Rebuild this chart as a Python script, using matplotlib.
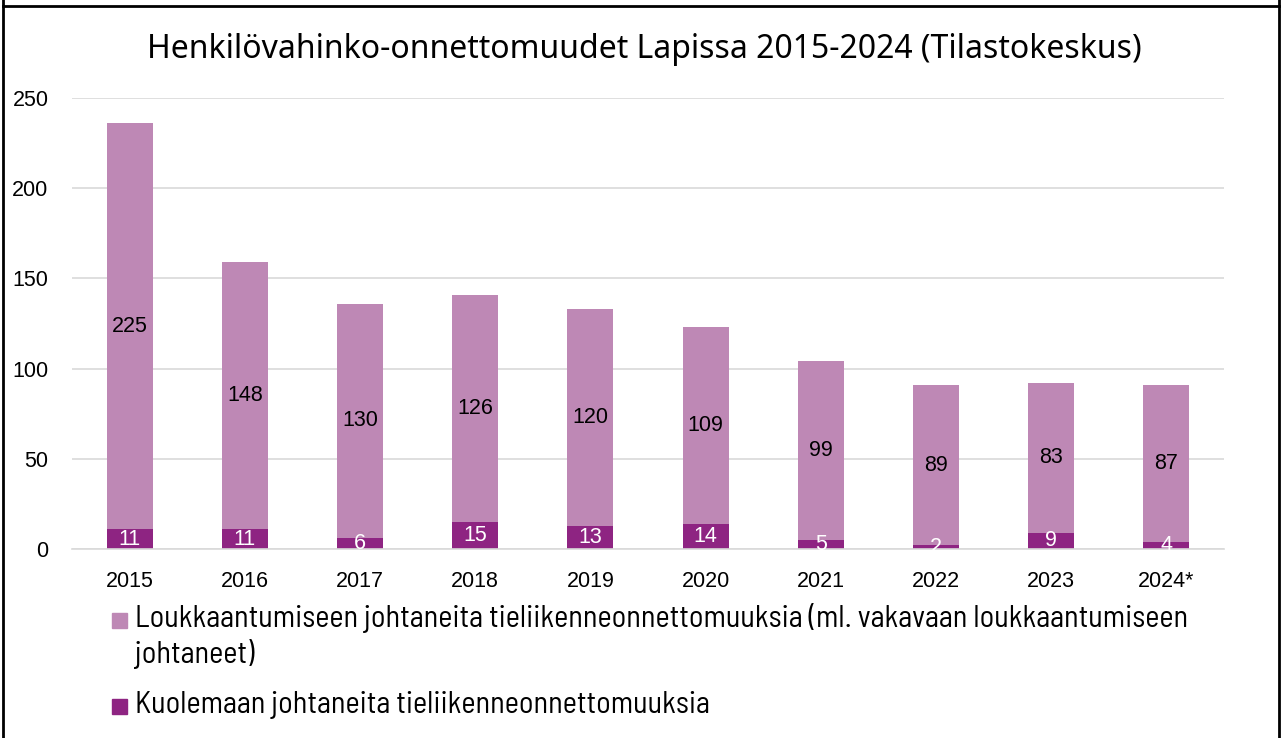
import matplotlib
matplotlib.use("Agg")
import matplotlib.pyplot as plt
from matplotlib.patches import Rectangle
from matplotlib.lines import Line2D
import numpy as np

years = ["2015", "2016", "2017", "2018", "2019", "2020", "2021", "2022", "2023", "2024*"]
deaths = [11, 11, 6, 15, 13, 14, 5, 2, 9, 4]
injuries = [225, 148, 130, 126, 120, 109, 99, 89, 83, 87]
label_injuries = ["Loukkaantumiseen johtaneita tieliikenneonnettomuuksia (ml. vakavaan loukkaantumiseen",
                  "johtaneet)"]
label_deaths = ["Kuolemaan johtaneita tieliikenneonnettomuuksia"]
title = "Henkilövahinko-onnettomuudet Lapissa 2015-2024 (Tilastokeskus)"

c_light = "#BE88B5"
c_dark = "#8E2482"

plt.rcParams['font.family'] = ['Liberation Sans', 'DejaVu Sans']

fig = plt.figure(figsize=(12.83, 7.38), dpi=100)
ax = fig.add_axes([72 / 1283, 1 - 549 / 738, 1152 / 1283, 451 / 738])

x = np.arange(len(years))
ax.bar(x, deaths, width=0.4, color=c_dark, zorder=3)
ax.bar(x, injuries, width=0.4, bottom=deaths, color=c_light, zorder=3)

for xi, d, i in zip(x, deaths, injuries):
    ax.text(xi, d / 2, str(d), ha="center", va="center", color="white", fontsize=15.5, zorder=4)
    ax.text(xi, d + i / 2, str(i), ha="center", va="center", color="black", fontsize=15.5, zorder=4)

ax.set_xlim(-0.5, len(years) - 0.5)
ax.set_ylim(0, 250)
ax.set_yticks([0, 50, 100, 150, 200, 250])
ax.set_xticks(x)
ax.set_xticklabels(years)
ax.tick_params(length=0, labelsize=15.5)
ax.tick_params(axis="x", pad=16)
ax.tick_params(axis="y", pad=17)
ax.grid(axis="y", color="#D9D9D9", linewidth=1.2, zorder=0)
for s in ["top", "right", "left"]:
    ax.spines[s].set_visible(False)
ax.spines["bottom"].set_color("#D9D9D9")
ax.spines["bottom"].set_linewidth(1.2)
ax.spines["bottom"].set_zorder(3.5)

fig.text(644 / 1283, 1 - 50 / 738, title, ha="center", va="center", fontsize=23,
         family=["Noto Sans", "DejaVu Sans"])

# legend drawn by hand so the wrapped label lines up like the original
narrow = ["Barlow Semi Condensed", "Archivo Narrow", "Liberation Sans", "DejaVu Sans"]
sq = 15
for base, col, lines in [(627, c_light, label_injuries), (713, c_dark, label_deaths)]:
    fig.patches.append(Rectangle((112 / 1283, 1 - (base + 1) / 738), sq / 1283, sq / 738,
                                 transform=fig.transFigure, color=col))
    for k, line in enumerate(lines):
        fig.text(135 / 1283, 1 - (base + 36 * k) / 738, line, ha="left", va="baseline",
                 fontsize=21.8, family=narrow)

# outer frame
for xs, ys in [([3, 3], [0, 738]), ([1279, 1279], [0, 738]), ([3, 1279], [6, 6])]:
    fig.lines.append(Line2D([v / 1283 for v in xs], [1 - v / 738 for v in ys],
                            transform=fig.transFigure, color="black", linewidth=2))

fig.savefig("out.png", dpi=100)
